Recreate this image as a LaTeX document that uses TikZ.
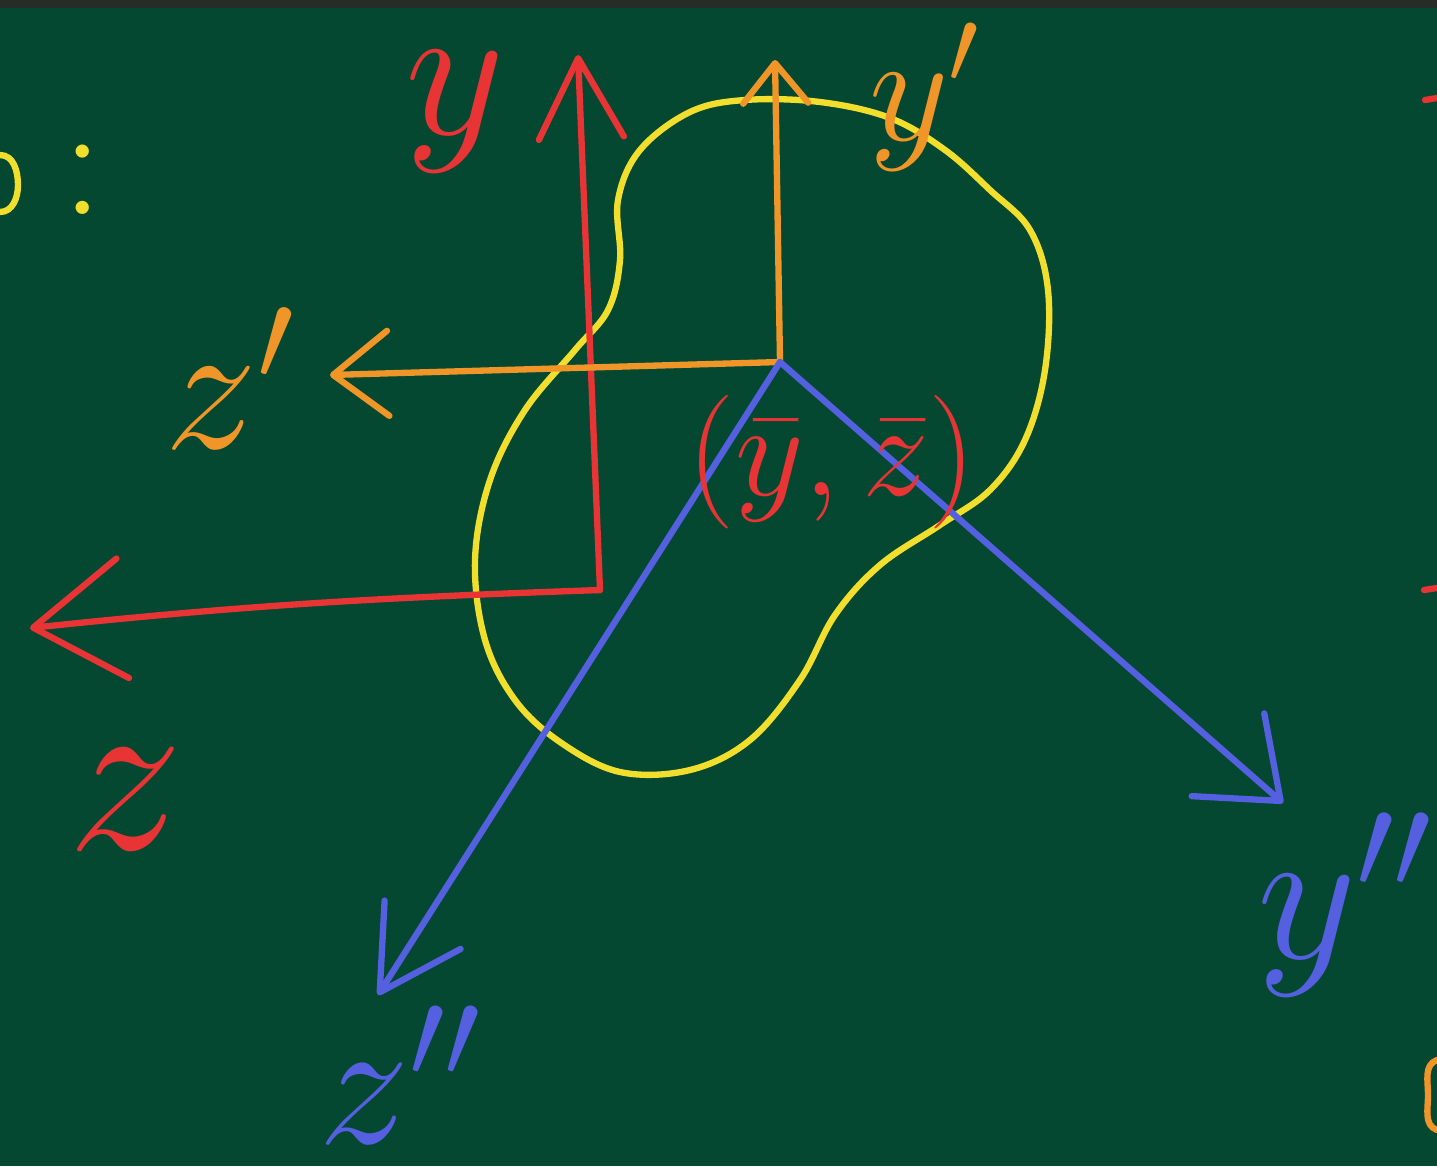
\RequirePackage{fix-cm}
\documentclass[tikz,border=0pt]{standalone}
\usepackage{amsmath}
\usepackage{tikz}
\usetikzlibrary{arrows.meta,calc}

\definecolor{board}{RGB}{4,72,50}
\definecolor{boardtop}{RGB}{38,44,40}
\definecolor{chalkred}{RGB}{232,52,52}
\definecolor{chalkorange}{RGB}{240,150,40}
\definecolor{chalkyellow}{RGB}{242,222,44}
\definecolor{chalkblue}{RGB}{84,96,224}

\begin{document}
\begin{tikzpicture}[
    x=0.01cm, y=-0.01cm,
    stroke/.style={line width=1.8pt, line cap=round, line join=round},
    axis/.style 2 args={stroke, -{Straight Barb[round, length=#1, width=#2]}},
    lbl/.style={inner sep=0pt, font=\fontsize{#1}{#1}\selectfont}
]
\fill[board] (0,0) rectangle (1437,1166);
\fill[boardtop] (0,0) rectangle (1437,8);
\useasboundingbox (0,0) rectangle (1437,1166);

% axis end points
\coordinate (rO) at (600,590);
\coordinate (rY) at (578,55);
\coordinate (rZ) at (30,628);
\coordinate (oO) at (780,362);
\coordinate (oY) at (775,60);
\coordinate (oZ) at (330,375);
\coordinate (bY) at (1283,803);
\coordinate (bZ) at (378,995);

% section outline
\draw[stroke, chalkyellow] plot[smooth cycle, tension=0.6] coordinates {
    (745,100) (820,102) (890,118) (945,150) (990,190) (1030,230) (1048,290)
    (1045,370) (1025,440) (990,490) (940,525) (880,565) (835,615) (800,680)
    (750,740) (690,770) (620,772) (560,742) (515,700) (485,640) (475,560)
    (490,480) (525,410) (575,350) (608,310) (620,260) (618,200) (640,150) (690,112)};

\draw[axis={8mm}{8.5mm}, chalkred] (rO) -- (rY);
\draw[axis={9mm}{12mm}, chalkred] (rO) to[out=182, in=6] (rZ);
\draw[axis={4mm}{6.5mm}, chalkorange] (oO) -- (oY);
\draw[axis={5.5mm}{8.5mm}, chalkorange] (oO) -- (oZ);
\draw[axis={7mm}{11mm}, chalkblue] (oO) -- (bY);
\draw[axis={8mm}{9mm}, chalkblue] (oO) -- (bZ);

\node[lbl=55, chalkred] (yLab) at (455,112) {$y$};
\node[lbl=66, chalkred] (zLab) at (125,800) {$z$};
\node[lbl=44, chalkorange] (ypLab) at (925,97) {$y'$};
\node[lbl=53, chalkorange] (zpLab) at (230,378) {$z'$};
\node[lbl=55, chalkblue] (yppLab) at (1345,905) {$y''$};
\node[lbl=52, chalkblue] (zppLab) at (400,1075) {$z''$};
\node[lbl=38, chalkred] (cLab) at (832,462) {$(\bar y,\bar z)$};

% cut-off marks at the edges
\node[lbl=46, chalkyellow] (colon) at (83,180) {:};
\draw[stroke, chalkyellow] (0,155) to[out=0, in=90] (18,185) to[out=-90, in=0] (0,212);
\draw[stroke, chalkred] (1425,100) -- (1437,98);
\draw[stroke, chalkred] (1424,590) -- (1437,588);
\draw[stroke, chalkorange] (1437,1060) to[out=200, in=90] (1428,1095) to[out=-90, in=160] (1437,1130);
\end{tikzpicture}
\end{document}
